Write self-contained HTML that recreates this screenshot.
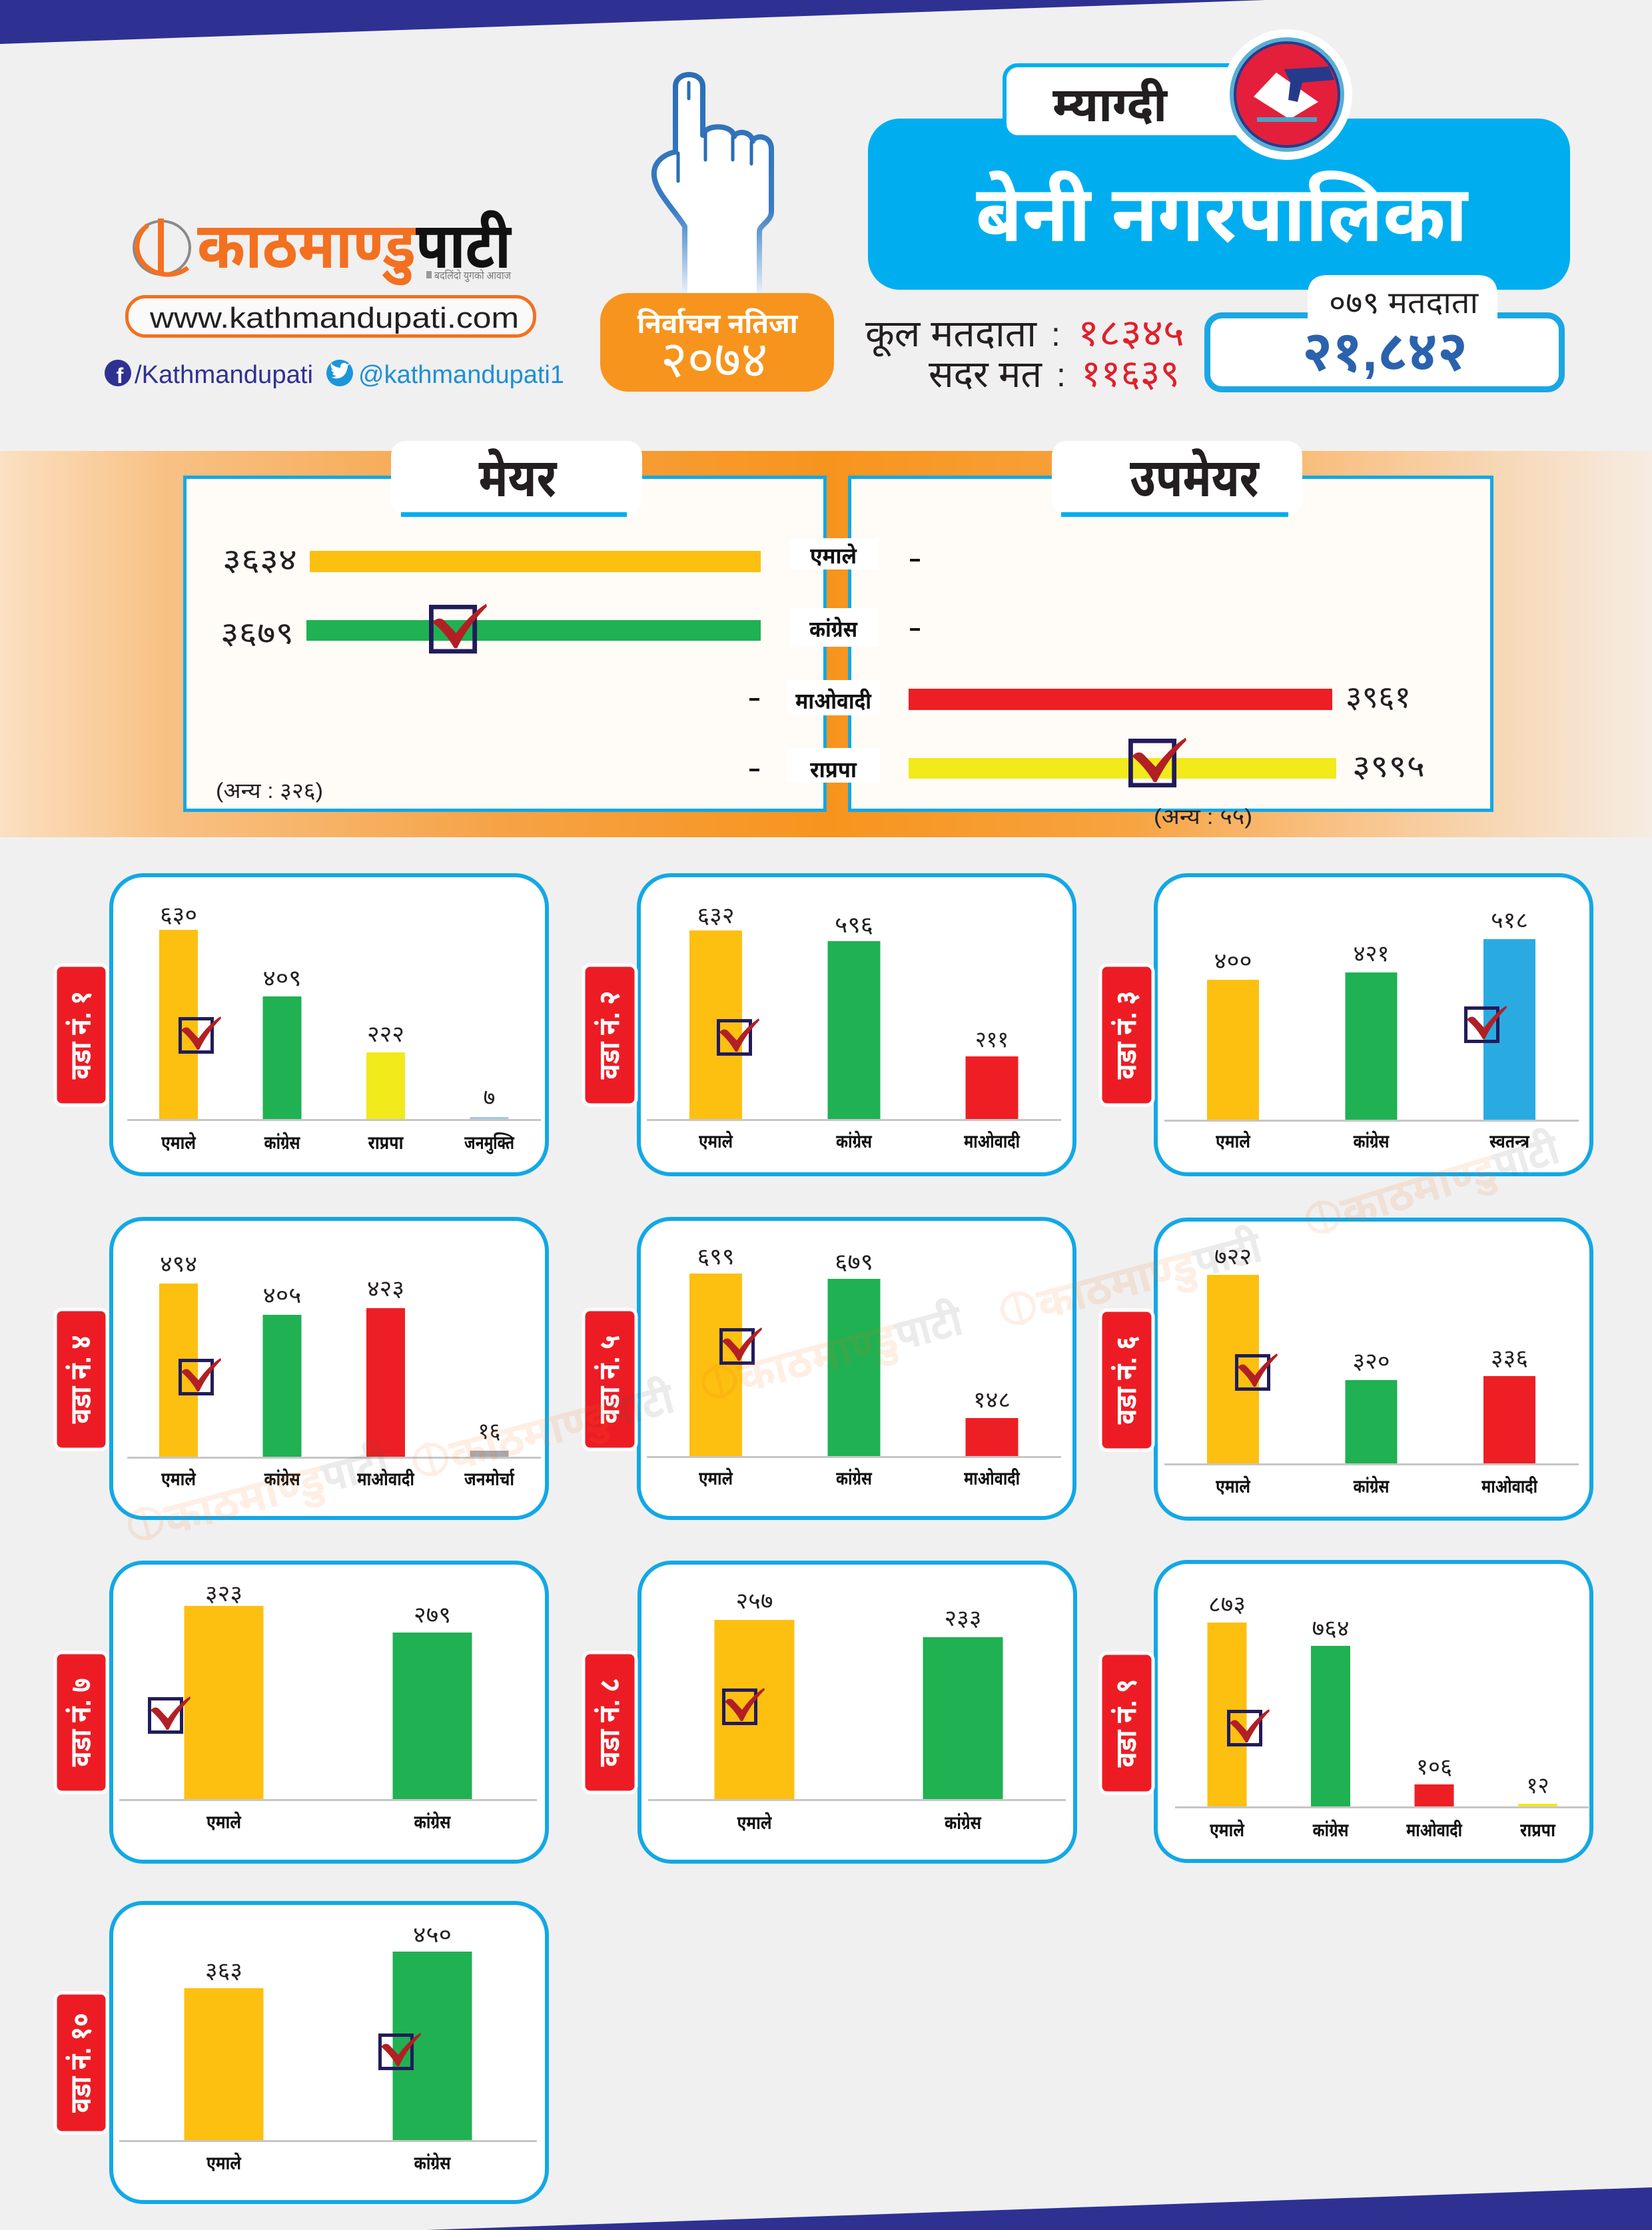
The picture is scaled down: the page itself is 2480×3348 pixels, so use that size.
<!DOCTYPE html>
<html><head><meta charset="utf-8">
<style>
html,body{margin:0;padding:0;background:#f0f0f0}
svg{display:block}
.d{font-family:"Liberation Sans","Noto Sans Devanagari","Lohit Devanagari","Mukta","Kalimati","Mangal","FreeSans",sans-serif}
.l{font-family:"Liberation Sans",sans-serif}
.v{font-size:34px;fill:#231f20;text-anchor:middle}
.c{font-size:28px;font-weight:bold;fill:#111;text-anchor:middle}
.w{font-size:44px;font-weight:bold;fill:#fff;text-anchor:middle}
</style></head>
<body>
<svg width="2480" height="3348" viewBox="0 0 2480 3348" xmlns="http://www.w3.org/2000/svg" class="d">
<defs>
<linearGradient id="og" x1="0" y1="0" x2="1" y2="0">
<stop offset="0" stop-color="#fbe0c2"/>
<stop offset="0.1" stop-color="#f8c184"/>
<stop offset="0.3" stop-color="#f6a346"/>
<stop offset="0.5" stop-color="#f7941d"/>
<stop offset="0.68" stop-color="#f7a33f"/>
<stop offset="0.82" stop-color="#f8c48b"/>
<stop offset="1" stop-color="#f6ece2"/>
</linearGradient>
<linearGradient id="hg" x1="0" y1="0" x2="0" y2="1">
<stop offset="0" stop-color="#2b6db6"/>
<stop offset="0.62" stop-color="#3a7cc4"/>
<stop offset="1" stop-color="#e6f1fa"/>
</linearGradient>
<g id="ck">
<rect x="2.5" y="2.5" width="48" height="50" fill="none" stroke="#211c5a" stroke-width="5"/>
<path d="M4,20 C8,15 13,14 17,18 L30,32 C40,18 52,6 63,-1 L64,2 C52,14 40,30 31,49 L28,49 C22,38 13,27 4,20 Z" fill="#b21f24"/>
</g>
<g id="wm">
<ellipse cx="25" cy="-28" rx="26" ry="24" fill="none" stroke="#f37021" stroke-width="6"/>
<rect x="22" y="-56" width="6" height="56" fill="#f37021"/>
<text x="58" y="0" font-size="72" font-weight="bold" fill="#f37021" textLength="265" lengthAdjust="spacingAndGlyphs">काठमाण्डु</text>
<text x="323" y="0" font-size="72" font-weight="bold" fill="#555" textLength="110" lengthAdjust="spacingAndGlyphs">पाटी</text>
</g>
</defs>

<rect x="0" y="0" width="2480" height="3348" fill="#f0f0f0"/>
<polygon points="0,0 1900,0 0,66" fill="#2e3192"/>
<polygon points="640,3348 2480,3284 2480,3348" fill="#2e3192"/>

<!-- Logo -->
<ellipse cx="243" cy="372" rx="42" ry="40" fill="none" stroke="#8a8a8a" stroke-width="4"/>
<path d="M222,338 A46,42 0 1,0 282,402" fill="none" stroke="#f37021" stroke-width="7"/>
<rect x="237" y="328" width="9" height="84" fill="#f37021"/>
<text x="296" y="402" font-size="96" font-weight="bold" fill="#f37021" textLength="328" lengthAdjust="spacingAndGlyphs">काठमाण्डु</text>
<text x="624" y="402" font-size="96" font-weight="bold" fill="#111" textLength="143" lengthAdjust="spacingAndGlyphs">पाटी</text>
<rect x="640" y="407" width="8" height="11" fill="#999"/>
<text x="652" y="419" font-size="16" fill="#777" textLength="115" lengthAdjust="spacingAndGlyphs">बदलिंदो युगको आवाज</text>

<rect x="190.5" y="445.5" width="612" height="59" rx="28" fill="#fafafa" stroke="#f37021" stroke-width="5"/>
<text class="l" x="225" y="492" font-size="44" fill="#231f20" textLength="554" lengthAdjust="spacingAndGlyphs">www.kathmandupati.com</text>

<circle cx="177" cy="560" r="20" fill="#2e3192"/>
<text class="l" x="180" y="575" font-size="32" font-weight="bold" fill="#fff" text-anchor="middle">f</text>
<text class="l" x="202" y="575" font-size="38" fill="#2e3192" textLength="268" lengthAdjust="spacingAndGlyphs">/Kathmandupati</text>
<circle cx="510" cy="560" r="20" fill="#1c96d9"/>
<path d="M497,566 C503,570 514,569 519,560 C521,556 522,552 522,549 L526,546 L521,547 C519,544 514,544 512,547 C511,549 511,551 511,552 C505,552 500,549 497,545 C496,549 497,553 500,555 L497,555 C498,558 500,559 502,560 L499,561 C500,563 502,564 505,564 C502,566 499,567 497,566 Z" fill="#fff"/>
<text class="l" x="538" y="575" font-size="38" fill="#1e8fd6" textLength="309" lengthAdjust="spacingAndGlyphs">@kathmandupati1</text>

<!-- Hand -->
<path d="M1028,440 L1028,340 C1010,312 984,288 982,264 C980,245 995,232 1014,228 L1014,130 C1014,106 1055,106 1055,130 L1055,203 C1058,186 1100,186 1102,205 C1105,196 1128,196 1130,212 C1133,202 1158,202 1158,224 L1158,318 C1158,332 1140,338 1140,348 L1140,440" fill="#fff" stroke="url(#hg)" stroke-width="8" stroke-linejoin="round"/>
<path d="M1018,230 L1018,272 M1034,124 L1034,148 M1059,200 L1059,240 M1100,206 L1100,240 M1128,214 L1128,246" stroke="#2b6db6" stroke-width="5" fill="none" stroke-linecap="round"/>

<!-- Orange election box -->
<rect x="901" y="440" width="351" height="148" rx="42" fill="#f7941d"/>
<text x="1077" y="500" font-size="42" font-weight="bold" fill="#fff" text-anchor="middle" textLength="241" lengthAdjust="spacingAndGlyphs">निर्वाचन नतिजा</text>
<text x="1072" y="566" font-size="76" fill="#fff" text-anchor="middle" textLength="161" lengthAdjust="spacingAndGlyphs">२०७४</text>

<!-- Right header -->
<rect x="1303" y="178" width="1054" height="257" rx="48" fill="#00aeef"/>
<rect x="1508" y="98" width="380" height="108" rx="20" fill="#fff" stroke="#00aeef" stroke-width="6"/>
<text x="1580" y="182" font-size="72" font-weight="bold" fill="#231f20" textLength="172" lengthAdjust="spacingAndGlyphs">म्याग्दी</text>
<circle cx="1932" cy="142" r="98" fill="#fff"/>
<circle cx="1932" cy="142" r="86" fill="#5aaed4"/>
<circle cx="1932" cy="142" r="80" fill="#263a8c"/>
<circle cx="1932" cy="142" r="76" fill="#e41f3b"/>
<polygon points="1882,145 1916,109 1979,153 1936,179" fill="#fff"/>
<polygon points="1928,104 1995,100 2003,120 1955,124 1948,153 1934,150 1937,124" fill="#263a8c"/>
<rect x="1887" y="176" width="90" height="7" fill="#4ba3c7"/>
<text x="1465" y="362" font-size="118" font-weight="bold" fill="#fff" textLength="738" lengthAdjust="spacingAndGlyphs">बेनी नगरपालिका</text>

<text x="1299" y="520" font-size="56" fill="#231f20" textLength="257" lengthAdjust="spacingAndGlyphs">कूल मतदाता</text>
<text x="1578" y="519" font-size="50" fill="#231f20">:</text>
<text x="1618" y="519" font-size="56" fill="#e0202a" textLength="160" lengthAdjust="spacingAndGlyphs">१८३४५</text>
<text x="1394" y="581" font-size="56" fill="#231f20" textLength="170" lengthAdjust="spacingAndGlyphs">सदर मत</text>
<text x="1586" y="580" font-size="50" fill="#231f20">:</text>
<text x="1623" y="580" font-size="56" fill="#e0202a" textLength="148" lengthAdjust="spacingAndGlyphs">११६३९</text>

<rect x="1812.5" y="473.5" width="532" height="111" rx="22" fill="#fff" stroke="#1aa7e4" stroke-width="9"/>
<path d="M1963,485 L1963,443 Q1963,413 1993,413 L2218,413 Q2248,413 2248,443 L2248,485 Z" fill="#fff"/>
<text x="1995" y="470" font-size="46" fill="#231f20" textLength="224" lengthAdjust="spacingAndGlyphs">०७९ मतदाता</text>
<text x="1955" y="556" font-size="84" font-weight="bold" fill="#2a62ae" textLength="248" lengthAdjust="spacingAndGlyphs">२१,८४२</text>

<!-- Mayor / Deputy section -->
<rect x="0" y="677" width="2480" height="580" fill="url(#og)"/>
<rect x="277.5" y="716.5" width="961" height="500" fill="#fffcf8" stroke="#13a8e5" stroke-width="5"/>
<rect x="1275.5" y="716.5" width="964" height="500" fill="#fffcf8" stroke="#13a8e5" stroke-width="5"/>

<rect x="587" y="662" width="377" height="111" rx="22" fill="#fff"/>
<rect x="602" y="769" width="339" height="7" fill="#00aeef"/>
<text x="777" y="745" font-size="80" font-weight="bold" fill="#231f20" text-anchor="middle" textLength="117" lengthAdjust="spacingAndGlyphs">मेयर</text>
<rect x="1579" y="662" width="376" height="111" rx="22" fill="#fff"/>
<rect x="1593" y="769" width="341" height="7" fill="#00aeef"/>
<text x="1793" y="745" font-size="80" font-weight="bold" fill="#231f20" text-anchor="middle" textLength="194" lengthAdjust="spacingAndGlyphs">उपमेयर</text>

<rect x="465" y="827" width="677" height="32" fill="#fdc010"/>
<rect x="460" y="931" width="682" height="31" fill="#1fb152"/>
<rect x="1364" y="1034" width="636" height="32" fill="#ed1f24"/>
<rect x="1364" y="1138" width="642" height="31" fill="#f2ea1a"/>

<text x="446" y="856" font-size="46" fill="#231f20" text-anchor="end" textLength="112" lengthAdjust="spacingAndGlyphs">३६३४</text>
<text x="441" y="966" font-size="46" fill="#231f20" text-anchor="end" textLength="110" lengthAdjust="spacingAndGlyphs">३६७९</text>
<text x="2020" y="1062" font-size="46" fill="#231f20" textLength="98" lengthAdjust="spacingAndGlyphs">३९६१</text>
<text x="2030" y="1166" font-size="46" fill="#231f20" textLength="109" lengthAdjust="spacingAndGlyphs">३९९५</text>

<rect x="1185" y="808" width="133" height="47" fill="#fff"/>
<rect x="1185" y="913" width="133" height="58" fill="#fff"/>
<rect x="1182" y="1021" width="139" height="53" fill="#fff"/>
<rect x="1182" y="1123" width="139" height="52" fill="#fff"/>
<text x="1251" y="846" font-size="34" font-weight="bold" fill="#111" text-anchor="middle" textLength="70" lengthAdjust="spacingAndGlyphs">एमाले</text>
<text x="1251" y="956" font-size="34" font-weight="bold" fill="#111" text-anchor="middle" textLength="72" lengthAdjust="spacingAndGlyphs">कांग्रेस</text>
<text x="1251" y="1064" font-size="34" font-weight="bold" fill="#111" text-anchor="middle" textLength="114" lengthAdjust="spacingAndGlyphs">माओवादी</text>
<text x="1251" y="1167" font-size="34" font-weight="bold" fill="#111" text-anchor="middle" textLength="70" lengthAdjust="spacingAndGlyphs">राप्रपा</text>

<rect x="1125" y="1048" width="15" height="4" fill="#111"/>
<rect x="1125" y="1154" width="15" height="4" fill="#111"/>
<rect x="1366" y="839" width="15" height="4" fill="#111"/>
<rect x="1366" y="943" width="15" height="4" fill="#111"/>

<text x="324" y="1198" font-size="32" fill="#231f20" textLength="161" lengthAdjust="spacingAndGlyphs">(अन्य : ३२६)</text>
<text x="1732" y="1237" font-size="32" fill="#231f20" textLength="148" lengthAdjust="spacingAndGlyphs">(अन्य : ५५)</text>

<use href="#ck" transform="translate(644,908) scale(1.36,1.33)"/>
<use href="#ck" transform="translate(1694,1109) scale(1.36,1.33)"/>

<!-- WARD BOXES -->
<g fill="#fff" stroke="#12a8e6" stroke-width="6">
<rect x="167" y="1314" width="654" height="449" rx="48"/>
<rect x="959" y="1314" width="654" height="449" rx="48"/>
<rect x="1735" y="1314" width="654" height="449" rx="48"/>
<rect x="167" y="1830" width="654" height="449" rx="48"/>
<rect x="959" y="1830" width="654" height="449" rx="48"/>
<rect x="1735" y="1831" width="654" height="449" rx="48"/>
<rect x="167" y="2346" width="654" height="449" rx="48"/>
<rect x="960" y="2346" width="654" height="449" rx="48"/>
<rect x="1735" y="2345" width="654" height="449" rx="48"/>
<rect x="167" y="2857" width="654" height="449" rx="48"/>
</g>
<g fill="#ed1c24" stroke="#fff" stroke-width="5">
<rect x="83" y="1449" width="78" height="210" rx="10"/>
<rect x="876" y="1449" width="79" height="210" rx="10"/>
<rect x="1652" y="1449" width="79" height="210" rx="10"/>
<rect x="83" y="1966" width="78" height="210" rx="10"/>
<rect x="876" y="1966" width="79" height="210" rx="10"/>
<rect x="1652" y="1967" width="79" height="210" rx="10"/>
<rect x="83" y="2481" width="78" height="210" rx="10"/>
<rect x="876" y="2481" width="79" height="210" rx="10"/>
<rect x="1652" y="2482" width="79" height="210" rx="10"/>
<rect x="83" y="2992" width="78" height="210" rx="10"/>
</g>
<text class="w" transform="translate(122,1554) rotate(-90)" y="14" textLength="133" lengthAdjust="spacingAndGlyphs">वडा नं. १</text>
<text class="w" transform="translate(915.5,1554) rotate(-90)" y="14" textLength="133" lengthAdjust="spacingAndGlyphs">वडा नं. २</text>
<text class="w" transform="translate(1691.5,1554) rotate(-90)" y="14" textLength="133" lengthAdjust="spacingAndGlyphs">वडा नं. ३</text>
<text class="w" transform="translate(122,2071) rotate(-90)" y="14" textLength="133" lengthAdjust="spacingAndGlyphs">वडा नं. ४</text>
<text class="w" transform="translate(915.5,2071) rotate(-90)" y="14" textLength="133" lengthAdjust="spacingAndGlyphs">वडा नं. ५</text>
<text class="w" transform="translate(1691.5,2072) rotate(-90)" y="14" textLength="133" lengthAdjust="spacingAndGlyphs">वडा नं. ६</text>
<text class="w" transform="translate(122,2586) rotate(-90)" y="14" textLength="133" lengthAdjust="spacingAndGlyphs">वडा नं. ७</text>
<text class="w" transform="translate(915.5,2586) rotate(-90)" y="14" textLength="133" lengthAdjust="spacingAndGlyphs">वडा नं. ८</text>
<text class="w" transform="translate(1691.5,2587) rotate(-90)" y="14" textLength="133" lengthAdjust="spacingAndGlyphs">वडा नं. ९</text>
<text class="w" transform="translate(122,3097) rotate(-90)" y="14" textLength="150" lengthAdjust="spacingAndGlyphs">वडा नं. १०</text>

<!-- axes -->
<g fill="#c6c6c6">
<rect x="191" y="1680" width="621" height="3"/>
<rect x="971" y="1680" width="622" height="3"/>
<rect x="1748" y="1681" width="622" height="3"/>
<rect x="191" y="2187" width="621" height="3"/>
<rect x="971" y="2186" width="622" height="3"/>
<rect x="1748" y="2197" width="622" height="3"/>
<rect x="179" y="2701" width="627" height="3"/>
<rect x="973" y="2701" width="627" height="3"/>
<rect x="1764" y="2712" width="621" height="3"/>
<rect x="179" y="3213" width="627" height="3"/>
</g>

<!-- Ward 1 -->
<rect x="239" y="1396" width="58" height="284" fill="#fdc010"/>
<rect x="394.5" y="1496" width="58" height="184" fill="#1fb152"/>
<rect x="550" y="1580" width="58" height="100" fill="#f2ea1a"/>
<rect x="705.5" y="1677" width="58" height="3" fill="#a4c8ea"/>
<text class="v" x="268" y="1385" textLength="56" lengthAdjust="spacingAndGlyphs">६३०</text>
<text class="v" x="423.5" y="1480" textLength="58" lengthAdjust="spacingAndGlyphs">४०९</text>
<text class="v" x="579" y="1564" textLength="56" lengthAdjust="spacingAndGlyphs">२२२</text>
<text class="v" x="734.5" y="1659" textLength="18" lengthAdjust="spacingAndGlyphs">७</text>
<text class="c" x="268" y="1725" textLength="52" lengthAdjust="spacingAndGlyphs">एमाले</text>
<text class="c" x="423.5" y="1725" textLength="54" lengthAdjust="spacingAndGlyphs">कांग्रेस</text>
<text class="c" x="579" y="1725" textLength="53" lengthAdjust="spacingAndGlyphs">राप्रपा</text>
<text class="c" x="734.5" y="1725" textLength="75" lengthAdjust="spacingAndGlyphs">जनमुक्ति</text>
<use href="#ck" x="268" y="1527"/>

<!-- Ward 2 -->
<rect x="1035" y="1397" width="79" height="283" fill="#fdc010"/>
<rect x="1242.5" y="1413" width="79" height="267" fill="#1fb152"/>
<rect x="1449.5" y="1586" width="79" height="94" fill="#ed1f24"/>
<text class="v" x="1074.5" y="1386" textLength="56" lengthAdjust="spacingAndGlyphs">६३२</text>
<text class="v" x="1282" y="1400" textLength="58" lengthAdjust="spacingAndGlyphs">५९६</text>
<text class="v" x="1489" y="1572" textLength="50" lengthAdjust="spacingAndGlyphs">२११</text>
<text class="c" x="1074.5" y="1723" textLength="51" lengthAdjust="spacingAndGlyphs">एमाले</text>
<text class="c" x="1282" y="1723" textLength="54" lengthAdjust="spacingAndGlyphs">कांग्रेस</text>
<text class="c" x="1489" y="1723" textLength="84" lengthAdjust="spacingAndGlyphs">माओवादी</text>
<use href="#ck" x="1076" y="1530"/>

<!-- Ward 3 -->
<rect x="1812" y="1471" width="78" height="210" fill="#fdc010"/>
<rect x="2019.5" y="1460" width="78" height="221" fill="#1fb152"/>
<rect x="2227" y="1410" width="78" height="271" fill="#29abe2"/>
<text class="v" x="1851" y="1454" textLength="57" lengthAdjust="spacingAndGlyphs">४००</text>
<text class="v" x="2058.5" y="1443" textLength="54" lengthAdjust="spacingAndGlyphs">४२१</text>
<text class="v" x="2266" y="1393" textLength="56" lengthAdjust="spacingAndGlyphs">५१८</text>
<text class="c" x="1851" y="1723" textLength="52" lengthAdjust="spacingAndGlyphs">एमाले</text>
<text class="c" x="2058.5" y="1723" textLength="54" lengthAdjust="spacingAndGlyphs">कांग्रेस</text>
<text class="c" x="2266" y="1723" textLength="60" lengthAdjust="spacingAndGlyphs">स्वतन्त्र</text>
<use href="#ck" x="2198" y="1511"/>

<!-- Ward 4 -->
<rect x="239" y="1927" width="58" height="260" fill="#fdc010"/>
<rect x="394.5" y="1974" width="58" height="213" fill="#1fb152"/>
<rect x="550" y="1964" width="58" height="223" fill="#ed1f24"/>
<rect x="705.5" y="2178" width="58" height="9" fill="#a7a9ac"/>
<text class="v" x="268" y="1909" textLength="56" lengthAdjust="spacingAndGlyphs">४९४</text>
<text class="v" x="423.5" y="1956" textLength="58" lengthAdjust="spacingAndGlyphs">४०५</text>
<text class="v" x="579" y="1946" textLength="56" lengthAdjust="spacingAndGlyphs">४२३</text>
<text class="v" x="734.5" y="2160" textLength="34" lengthAdjust="spacingAndGlyphs">१६</text>
<text class="c" x="268" y="2230" textLength="52" lengthAdjust="spacingAndGlyphs">एमाले</text>
<text class="c" x="423.5" y="2230" textLength="54" lengthAdjust="spacingAndGlyphs">कांग्रेस</text>
<text class="c" x="579" y="2230" textLength="86" lengthAdjust="spacingAndGlyphs">माओवादी</text>
<text class="c" x="734.5" y="2230" textLength="75" lengthAdjust="spacingAndGlyphs">जनमोर्चा</text>
<use href="#ck" x="268" y="2040"/>

<!-- Ward 5 -->
<rect x="1035" y="1912" width="79" height="274" fill="#fdc010"/>
<rect x="1242.5" y="1920" width="79" height="266" fill="#1fb152"/>
<rect x="1449.5" y="2129" width="79" height="57" fill="#ed1f24"/>
<text class="v" x="1074.5" y="1898" textLength="56" lengthAdjust="spacingAndGlyphs">६९९</text>
<text class="v" x="1282" y="1906" textLength="58" lengthAdjust="spacingAndGlyphs">६७९</text>
<text class="v" x="1489" y="2113" textLength="56" lengthAdjust="spacingAndGlyphs">१४८</text>
<text class="c" x="1074.5" y="2229" textLength="51" lengthAdjust="spacingAndGlyphs">एमाले</text>
<text class="c" x="1282" y="2229" textLength="54" lengthAdjust="spacingAndGlyphs">कांग्रेस</text>
<text class="c" x="1489" y="2229" textLength="84" lengthAdjust="spacingAndGlyphs">माओवादी</text>
<use href="#ck" x="1080" y="1994"/>

<!-- Ward 6 -->
<rect x="1812" y="1914" width="78" height="283" fill="#fdc010"/>
<rect x="2019.5" y="2072" width="78" height="125" fill="#1fb152"/>
<rect x="2227" y="2066" width="78" height="131" fill="#ed1f24"/>
<text class="v" x="1851" y="1898" textLength="56" lengthAdjust="spacingAndGlyphs">७२२</text>
<text class="v" x="2058.5" y="2055" textLength="56" lengthAdjust="spacingAndGlyphs">३२०</text>
<text class="v" x="2266" y="2050" textLength="56" lengthAdjust="spacingAndGlyphs">३३६</text>
<text class="c" x="1851" y="2241" textLength="52" lengthAdjust="spacingAndGlyphs">एमाले</text>
<text class="c" x="2058.5" y="2241" textLength="54" lengthAdjust="spacingAndGlyphs">कांग्रेस</text>
<text class="c" x="2266" y="2241" textLength="84" lengthAdjust="spacingAndGlyphs">माओवादी</text>
<use href="#ck" x="1854" y="2033"/>

<!-- Ward 7 -->
<rect x="276.5" y="2411" width="119" height="290" fill="#fdc010"/>
<rect x="589.5" y="2451" width="119" height="250" fill="#1fb152"/>
<text class="v" x="336" y="2404" textLength="56" lengthAdjust="spacingAndGlyphs">३२३</text>
<text class="v" x="649" y="2436" textLength="56" lengthAdjust="spacingAndGlyphs">२७९</text>
<text class="c" x="336" y="2745" textLength="52" lengthAdjust="spacingAndGlyphs">एमाले</text>
<text class="c" x="649" y="2745" textLength="55" lengthAdjust="spacingAndGlyphs">कांग्रेस</text>
<use href="#ck" x="222" y="2548"/>

<!-- Ward 8 -->
<rect x="1072.5" y="2432" width="120" height="269" fill="#fdc010"/>
<rect x="1385.5" y="2458" width="120" height="243" fill="#1fb152"/>
<text class="v" x="1132.5" y="2415" textLength="56" lengthAdjust="spacingAndGlyphs">२५७</text>
<text class="v" x="1445.5" y="2441" textLength="56" lengthAdjust="spacingAndGlyphs">२३३</text>
<text class="c" x="1132.5" y="2746" textLength="52" lengthAdjust="spacingAndGlyphs">एमाले</text>
<text class="c" x="1445.5" y="2746" textLength="55" lengthAdjust="spacingAndGlyphs">कांग्रेस</text>
<use href="#ck" x="1084" y="2535"/>

<!-- Ward 9 -->
<rect x="1812.5" y="2436" width="59" height="276" fill="#fdc010"/>
<rect x="1968" y="2471" width="59" height="241" fill="#1fb152"/>
<rect x="2123.5" y="2679" width="59" height="33" fill="#ed1f24"/>
<rect x="2279" y="2708" width="59" height="4" fill="#f2ea1a"/>
<text class="v" x="1842" y="2420" textLength="56" lengthAdjust="spacingAndGlyphs">८७३</text>
<text class="v" x="1997.5" y="2456" textLength="56" lengthAdjust="spacingAndGlyphs">७६४</text>
<text class="v" x="2153" y="2664" textLength="54" lengthAdjust="spacingAndGlyphs">१०६</text>
<text class="v" x="2308.5" y="2692" textLength="34" lengthAdjust="spacingAndGlyphs">१२</text>
<text class="c" x="1842" y="2757" textLength="52" lengthAdjust="spacingAndGlyphs">एमाले</text>
<text class="c" x="1997.5" y="2757" textLength="54" lengthAdjust="spacingAndGlyphs">कांग्रेस</text>
<text class="c" x="2153" y="2757" textLength="84" lengthAdjust="spacingAndGlyphs">माओवादी</text>
<text class="c" x="2308.5" y="2757" textLength="53" lengthAdjust="spacingAndGlyphs">राप्रपा</text>
<use href="#ck" x="1842" y="2567"/>

<!-- Ward 10 -->
<rect x="276.5" y="2985" width="119" height="228" fill="#fdc010"/>
<rect x="589.5" y="2930" width="119" height="283" fill="#1fb152"/>
<text class="v" x="336" y="2970" textLength="56" lengthAdjust="spacingAndGlyphs">३६३</text>
<text class="v" x="649" y="2916" textLength="58" lengthAdjust="spacingAndGlyphs">४५०</text>
<text class="c" x="336" y="3257" textLength="52" lengthAdjust="spacingAndGlyphs">एमाले</text>
<text class="c" x="649" y="3257" textLength="55" lengthAdjust="spacingAndGlyphs">कांग्रेस</text>
<use href="#ck" x="568" y="3053"/>

<!-- faint watermarks on top -->
<g opacity="0.12">
<use href="#wm" transform="translate(1972,1858) rotate(-17) scale(0.9)"/>
<use href="#wm" transform="translate(1064,2105) rotate(-15) scale(0.92)"/>
<use href="#wm" transform="translate(1513,1995) rotate(-15) scale(0.92)"/>
<use href="#wm" transform="translate(631,2222) rotate(-15) scale(0.92)"/>
<use href="#wm" transform="translate(203,2318) rotate(-15) scale(0.92)"/>
</g>
</svg>
</body></html>
